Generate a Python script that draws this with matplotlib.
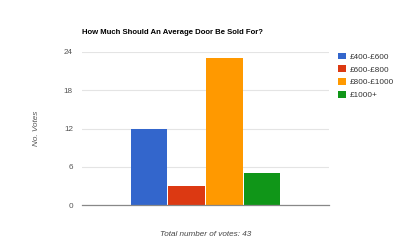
import matplotlib
matplotlib.use("Agg")
import matplotlib.pyplot as plt
from matplotlib.patches import Patch

categories = ["£400-£600", "£600-£800", "£800-£1000", "£1000+"]
votes = [12, 3, 23, 5]
colors = ["#3366cc", "#dc3912", "#ff9900", "#109618"]
yticks = [0, 6, 12, 18, 24]

plt.rcParams["font.family"] = ["Liberation Sans", "DejaVu Sans"]

fig = plt.figure(figsize=(4, 2.47), dpi=100)
ax = fig.add_axes([0.205, 0.17, 0.6175, 0.6195])

xs = list(range(len(votes)))
ax.bar(xs, votes, width=0.97, color=colors, zorder=3)
ax.set_xlim(-1.77, 4.77)
ax.set_ylim(0, 24)
ax.set_yticks(yticks)
ax.set_yticklabels([str(t) for t in yticks], fontsize=5.9, color="#555555")
ax.set_xticks([])
ax.tick_params(axis="y", length=0, pad=6.5)
ax.grid(axis="y", color="#e4e4e4", lw=0.8, zorder=0)
for s in ("top", "right", "left"):
    ax.spines[s].set_visible(False)
ax.spines["bottom"].set_color("#888888")
ax.spines["bottom"].set_linewidth(0.9)
ax.spines["bottom"].set_zorder(4)

ax.set_ylabel("No. Votes", fontsize=5.9, style="italic", color="#555555", labelpad=17)

fig.text(0.205, 0.855, "How Much Should An Average Door Be Sold For?",
         fontsize=5.6, fontweight="bold", color="#000000", ha="left", va="bottom")
fig.text(0.515, 0.05, "Total number of votes: 43", fontsize=5.9, style="italic",
         color="#444444", ha="center", va="center")

handles = [Patch(facecolor=c, label=l) for c, l in zip(colors, categories)]
fig.legend(handles=handles, loc="upper left", bbox_to_anchor=(0.838, 0.8),
           frameon=False, fontsize=5.9, handlelength=0.9, handleheight=0.9,
           handletextpad=0.5, labelspacing=0.55, borderaxespad=0,
           labelcolor="#333333")

fig.savefig("out.png", dpi=100)
